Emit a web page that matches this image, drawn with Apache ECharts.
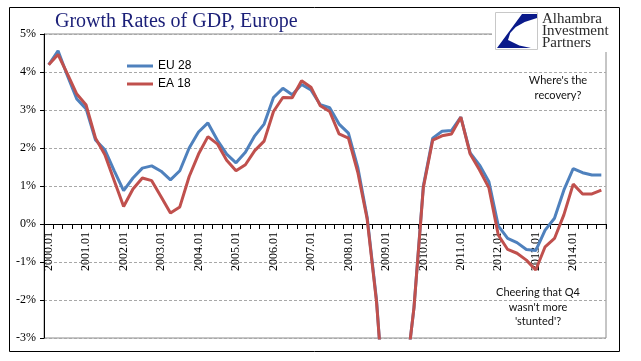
<!DOCTYPE html>
<html>
<head>
<meta charset="utf-8">
<script src="https://cdn.jsdelivr.net/npm/echarts@6/dist/echarts.min.js"></script>
<style>
html,body{margin:0;padding:0;background:#fff;}
#c{width:641px;height:361px;}
</style>
</head>
<body>
<div id="c"></div>
<script>
var categories = [
 '2000.01','2000.02','2000.03','2000.04','2001.01','2001.02','2001.03','2001.04',
 '2002.01','2002.02','2002.03','2002.04','2003.01','2003.02','2003.03','2003.04',
 '2004.01','2004.02','2004.03','2004.04','2005.01','2005.02','2005.03','2005.04',
 '2006.01','2006.02','2006.03','2006.04','2007.01','2007.02','2007.03','2007.04',
 '2008.01','2008.02','2008.03','2008.04','2009.01','2009.02','2009.03','2009.04',
 '2010.01','2010.02','2010.03','2010.04','2011.01','2011.02','2011.03','2011.04',
 '2012.01','2012.02','2012.03','2012.04','2013.01','2013.02','2013.03','2013.04',
 '2014.01','2014.02','2014.03','2014.04'
];
var eu28 = [
 4.19,4.56,3.90,3.29,3.03,2.21,1.95,1.40,
 0.88,1.21,1.47,1.53,1.39,1.16,1.40,2.00,
 2.42,2.66,2.21,1.84,1.61,1.89,2.32,2.63,
 3.33,3.57,3.40,3.67,3.53,3.14,3.06,2.63,
 2.39,1.49,0.18,-2.00,-5.40,-5.20,-4.30,-2.20,
 1.00,2.26,2.44,2.46,2.81,1.87,1.55,1.11,
 -0.05,-0.38,-0.49,-0.67,-0.70,-0.16,0.15,0.89,
 1.46,1.35,1.29,1.29
];
var ea18 = [
 4.19,4.46,3.95,3.42,3.13,2.26,1.82,1.14,
 0.46,0.92,1.21,1.14,0.72,0.29,0.45,1.25,
 1.84,2.30,2.11,1.68,1.40,1.56,1.93,2.18,
 2.96,3.33,3.32,3.77,3.60,3.11,2.96,2.37,
 2.26,1.36,0.13,-2.05,-5.30,-5.00,-4.30,-2.20,
 0.96,2.21,2.32,2.37,2.81,1.84,1.42,0.95,
 -0.29,-0.67,-0.77,-0.95,-1.21,-0.60,-0.38,0.24,
 1.05,0.79,0.79,0.89
];
var yTicks = {min:-3, max:5, interval:1};
var seriesNames = ['EU 28','EA 18'];

var gridTop = 34, gridBottom = 23, chartH = 361;
var plotH = chartH - gridTop - gridBottom;
// pixel distance from grid bottom up to the zero line
var zeroOffset = plotH * (0 - yTicks.min) / (yTicks.max - yTicks.min);

var chart = echarts.init(document.getElementById('c'), null, {renderer:'canvas'});
chart.setOption({
  animation:false,
  backgroundColor:'#fff',
  grid:{left:44,right:35,top:gridTop,bottom:gridBottom,show:true,borderColor:'#8c8c8c',borderWidth:1,containLabel:false,outerBoundsMode:'none'},
  legend:{
    data:seriesNames, orient:'vertical', left:122, top:55, itemGap:6,
    itemWidth:26, itemHeight:3, icon:'rect',
    textStyle:{fontFamily:'Liberation Sans',fontSize:12,color:'#000'}
  },
  xAxis:{
    type:'category', data:categories, boundaryGap:true, position:'bottom', offset:-zeroOffset,
    axisLine:{onZero:false,lineStyle:{color:'#000',width:1}},
    axisTick:{show:true,interval:0,length:5,lineStyle:{color:'#000'}},
    axisLabel:{interval:3,rotate:90,margin:8,fontFamily:'Liberation Serif',fontSize:12,color:'#000'},
    splitLine:{show:false}
  },
  yAxis:{
    type:'value', min:yTicks.min, max:yTicks.max, interval:yTicks.interval,
    axisLine:{show:true,lineStyle:{color:'#000',width:1}},
    axisTick:{show:true,length:4,lineStyle:{color:'#000'}},
    axisLabel:{formatter:'{value}%',margin:8,fontFamily:'Liberation Serif',fontSize:12,color:'#000'},
    splitLine:{show:true,lineStyle:{color:'#a8a8a8',type:[3,2],width:1}}
  },
  series:[
    {name:seriesNames[0],type:'line',data:eu28,symbol:'none',clip:true,
     lineStyle:{color:'#4F81BD',width:3},itemStyle:{color:'#4F81BD'}},
    {name:seriesNames[1],type:'line',data:ea18,symbol:'none',clip:true,
     lineStyle:{color:'#C0504D',width:3},itemStyle:{color:'#C0504D'}}
  ],
  graphic:[
    {type:'rect',shape:{x:9.5,y:7.5,width:610,height:344},style:{fill:null,stroke:'#000',lineWidth:1},z:0,silent:true},
    {type:'rect',shape:{x:492,y:9,width:126,height:43},style:{fill:'#fff',stroke:null},z:50},
    {type:'text',left:55,top:12,style:{text:'Growth Rates of GDP, Europe',font:'20px "Liberation Serif"',fill:'#1b1f78'},z:60},
    {type:'rect',shape:{x:495.5,y:12.5,width:42,height:37},style:{fill:'#fff',stroke:'#c8c8c8',lineWidth:1},z:60},
    {type:'polygon',shape:{points:[[497,48],[522,14],[537,14],[537,18],[524.7,22],[515.8,27],[510.2,33],[508,40],[519.3,45.5],[531,48]]},style:{fill:'#0a1a8a'},z:61},
    {type:'text',left:542,top:12,style:{text:'Alhambra\nInvestment\nPartners',font:'15px "Liberation Serif"',lineHeight:12,fill:'#2a2a2a'},z:60},
    {type:'text',x:558,y:88,style:{text:"Where's the\nrecovery?",font:'11px Lato',lineHeight:15,fill:'#111',align:'center',verticalAlign:'middle'},z:60},
    {type:'text',x:538,y:307,style:{text:"Cheering that Q4\nwasn't more\n'stunted'?",font:'11px Lato',lineHeight:14.5,fill:'#111',align:'center',verticalAlign:'middle'},z:60}
  ]
});
</script>
</body>
</html>
